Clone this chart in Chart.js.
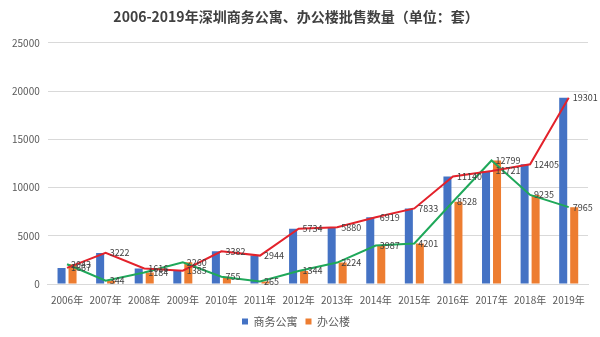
<!DOCTYPE html>
<html>
<head>
<meta charset="utf-8">
<script src="https://cdn.jsdelivr.net/npm/chart.js@4"></script>
<style>
  body { margin: 0; background: #fff; }
  #box { width: 600px; height: 337px; }
</style>
</head>
<body>
<div id="box"><canvas id="grafico" width="600" height="337"></canvas></div>
<script>
const anos = ["2006年", "2007年", "2008年", "2009年", "2010年", "2011年", "2012年",
  "2013年", "2014年", "2015年", "2016年", "2017年", "2018年", "2019年"];
const apartamentos = [1667, 3222, 1616, 1385, 3382, 2944, 5734, 5880, 6919, 7833, 11140, 11721, 12405, 19301];
const escritorios = [2043, 344, 1184, 2260, 755, 265, 1344, 2224, 3987, 4201, 8528, 12799, 9235, 7965];

const fonte = "'Noto Sans CJK SC', 'Noto Sans', sans-serif";

// rótulos ao lado dos pontos das linhas
const rotulos = {
  id: "rotulos",
  afterDatasetsDraw(chart) {
    const ctx = chart.ctx;
    ctx.save();
    ctx.font = "9px " + fonte;
    ctx.fillStyle = "#404040";
    ctx.textAlign = "left";
    ctx.textBaseline = "middle";
    chart.data.datasets.forEach((ds, i) => {
      if (ds.type !== "line") return;
      chart.getDatasetMeta(i).data.forEach((pt, j) => {
        ctx.fillText(ds.data[j], pt.x + 4, pt.y);
      });
    });
    ctx.restore();
  }
};

const ctx = document.getElementById("grafico").getContext("2d");
new Chart(ctx, {
  type: "bar",
  data: {
    labels: anos,
    datasets: [
      {
        type: "line",
        label: "商务公寓线",
        data: apartamentos,
        borderColor: "#E3222B",
        borderWidth: 2,
        pointRadius: 0,
        order: 0,
      },
      {
        type: "line",
        label: "办公楼线",
        data: escritorios,
        borderColor: "#1FA85A",
        borderWidth: 2,
        pointRadius: 0,
        order: 0,
      },
      {
        label: "商务公寓",
        data: apartamentos,
        backgroundColor: "#4472C4",
        categoryPercentage: 0.57,
        barPercentage: 0.73,
        order: 1,
      },
      {
        label: "办公楼",
        data: escritorios,
        backgroundColor: "#ED7D31",
        categoryPercentage: 0.57,
        barPercentage: 0.73,
        order: 1,
      },
    ],
  },
  options: {
    responsive: false,
    animation: false,
    layout: { padding: { left: 4, right: 12, top: 0, bottom: 0 } },
    scales: {
      x: {
        grid: { display: false },
        border: { color: "#D9D9D9" },
        ticks: {
          color: "#595959", font: { family: fonte, size: 10 }, padding: 2,
          maxRotation: 0, minRotation: 0, autoSkip: false,
        },
      },
      y: {
        min: 0,
        max: 25000,
        ticks: {
          stepSize: 5000, color: "#595959", font: { family: fonte, size: 10 }, padding: 8,
          callback: (v) => String(v),
        },
        grid: { color: "#D9D9D9", drawTicks: false },
        border: { display: false },
      },
    },
    plugins: {
      title: {
        display: true,
        text: "2006-2019年深圳商务公寓、办公楼批售数量（单位：套）",
        color: "#404040",
        font: { family: fonte, size: 14, weight: "bold" },
        padding: { top: 8, bottom: 18 },
      },
      legend: {
        position: "bottom",
        labels: {
          filter: (item) => item.datasetIndex >= 2,
          boxWidth: 6,
          boxHeight: 6,
          color: "#595959",
          font: { family: fonte, size: 11 },
          padding: 8,
        },
      },
      tooltip: { enabled: false },
    },
  },
  plugins: [rotulos],
});
</script>
</body>
</html>
